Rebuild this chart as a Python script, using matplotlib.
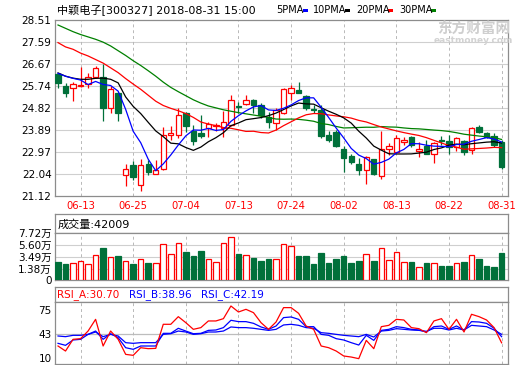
import matplotlib
matplotlib.use("Agg")
import matplotlib.pyplot as plt
from matplotlib.patches import Rectangle
import numpy as np

# ---------------- data ----------------
dates = ['06-13', '06-25', '07-04', '07-13', '07-24', '08-02', '08-13', '08-22', '08-31']
date_idx = [3, 10, 17, 24, 31, 38, 45, 52, 59]

opens = [26.24, 25.73, 25.64, 25.73, 25.82, 26.10, 26.10, 24.80, 25.43, 21.99,
         22.44, 21.57, 22.45, 22.06, 22.27, 23.70, 23.70, 24.59, 23.86, 23.75,
         23.96, 24.06, 23.96, 24.09, 24.89, 24.98, 25.15, 24.94, 24.44, 24.17,
         24.59, 25.43, 25.57, 25.31, 24.78, 24.73, 23.67, 23.81, 23.08, 22.79,
         22.48, 22.23, 22.69, 21.95, 23.11, 22.97, 23.39, 23.58, 23.01, 23.21,
         22.90, 23.46, 23.42, 23.18, 23.42, 23.04, 24.00, 23.75, 23.63, 23.37]
highs = [26.29, 25.85, 25.92, 26.55, 26.29, 26.58, 26.66, 25.73, 25.50, 22.48,
         22.59, 22.69, 22.65, 22.65, 24.02, 24.05, 24.80, 24.65, 24.12, 24.51,
         24.23, 24.18, 24.70, 25.36, 25.07, 25.36, 25.18, 25.01, 24.65, 24.80,
         25.64, 25.78, 25.92, 25.36, 24.94, 24.94, 23.84, 23.88, 23.21, 22.90,
         22.73, 22.79, 22.69, 23.84, 23.33, 23.67, 23.58, 23.63, 23.39, 23.49,
         23.39, 23.63, 23.67, 23.58, 23.46, 24.02, 24.09, 23.81, 23.75, 23.46]
lows = [25.64, 25.28, 25.12, 25.68, 25.64, 26.06, 24.27, 24.61, 24.27, 21.54,
        21.78, 21.33, 21.99, 22.03, 22.23, 23.46, 23.54, 23.81, 23.25, 23.54,
        23.60, 23.86, 23.60, 24.05, 24.59, 24.94, 24.59, 24.38, 23.96, 23.88,
        24.56, 25.15, 25.43, 24.73, 24.59, 23.54, 23.39, 23.18, 22.13, 22.48,
        21.99, 21.64, 21.99, 21.85, 22.83, 22.93, 23.25, 23.18, 22.76, 22.87,
        22.51, 23.25, 22.90, 23.01, 22.83, 22.90, 23.77, 23.54, 23.18, 22.24]
closes = [25.85, 25.43, 25.82, 25.80, 26.10, 26.50, 24.80, 25.60, 24.61, 22.27,
          21.90, 22.41, 22.13, 22.20, 23.70, 23.77, 24.51, 24.05, 23.43, 23.65,
          24.14, 24.10, 24.23, 25.15, 24.84, 25.15, 24.94, 24.51, 24.23, 24.73,
          25.61, 25.64, 25.43, 24.80, 24.73, 23.63, 23.49, 23.21, 22.73, 22.53,
          22.23, 22.76, 22.03, 23.11, 23.21, 23.54, 23.49, 23.25, 23.08, 22.90,
          23.35, 23.44, 23.18, 23.54, 22.97, 23.96, 23.81, 23.58, 23.25, 22.34]

# moving-average values at the left edge (before enough visible closes exist)
ma5_head = [26.27, 26.15, 26.06, 25.99]
ma10_head = [26.29, 26.15, 26.07, 26.02, 26.02, 26.06, 26.07, 26.02, 25.87]
ma20_head = [27.56, 27.38, 27.28, 27.12, 27.00, 26.85, 26.70, 26.50, 26.30, 26.05,
             25.82, 25.60, 25.35, 25.10, 24.92, 24.80, 24.70, 24.58, 24.42]
ma30_head = [28.30, 28.16, 28.02, 27.90, 27.80, 27.70, 27.58, 27.42, 27.22, 27.02,
             26.80, 26.60, 26.38, 26.15, 25.90, 25.68, 25.50, 25.33, 25.16, 25.02,
             24.90, 24.82, 24.74, 24.68, 24.62, 24.57, 24.52, 24.47, 24.42]

# volume in 万 shares
volume = [2.70, 2.35, 2.47, 2.82, 2.30, 3.81, 5.12, 3.51, 3.74, 2.82,
          2.35, 3.22, 2.53, 2.47, 5.76, 4.08, 5.93, 4.43, 3.74, 4.60,
          3.22, 2.65, 5.93, 6.97, 4.08, 3.86, 3.34, 2.87, 3.22, 3.22,
          5.76, 5.42, 3.69, 3.69, 2.30, 4.20, 2.47, 3.22, 3.69, 2.47,
          2.87, 4.03, 2.87, 5.07, 3.04, 4.38, 2.65, 2.65, 1.73, 2.47,
          2.47, 1.96, 1.96, 2.47, 2.65, 3.86, 3.22, 1.96, 1.78, 4.2009]

rsi_a = [26.4, 19.6, 35.4, 36.3, 46.6, 62.4, 26.4, 46.6, 35.4, 15.1,
         13.8, 24.1, 22.8, 23.2, 55.7, 55.7, 66.0, 57.9, 48.9, 51.2,
         60.2, 60.2, 63.3, 80.4, 72.3, 75.9, 71.4, 57.9, 48.9, 58.8,
         78.2, 78.2, 70.5, 53.4, 48.9, 26.4, 24.1, 19.6, 12.9, 11.5,
         9.3, 34.0, 22.8, 52.5, 54.3, 62.4, 61.5, 51.2, 49.8, 44.4,
         60.2, 63.3, 48.9, 62.4, 45.3, 69.2, 66.0, 61.5, 51.2, 30.70]
rsi_b = [30.0, 27.3, 34.5, 35.4, 42.1, 46.6, 35.4, 43.0, 37.6, 24.1,
         21.9, 26.4, 26.4, 26.4, 43.5, 43.5, 50.3, 46.6, 43.0, 43.5,
         47.5, 48.0, 51.2, 61.1, 59.3, 59.3, 57.0, 52.1, 48.9, 53.4,
         64.7, 65.6, 62.4, 52.5, 52.5, 42.1, 40.8, 36.3, 34.5, 30.9,
         27.7, 40.8, 34.0, 47.5, 48.9, 52.5, 51.2, 48.9, 48.0, 45.3,
         52.5, 53.4, 48.9, 53.4, 48.0, 59.3, 58.8, 57.0, 50.3, 38.96]
rsi_c = [39.9, 39.0, 40.8, 40.8, 42.1, 45.3, 39.0, 42.1, 39.9, 30.9,
         30.0, 30.9, 30.9, 30.9, 42.1, 43.0, 46.6, 45.3, 42.1, 43.0,
         45.3, 45.3, 46.6, 52.1, 51.2, 51.2, 50.3, 48.9, 47.5, 48.9,
         54.8, 55.7, 54.3, 51.2, 50.3, 44.4, 43.5, 42.1, 40.8, 39.9,
         39.0, 42.1, 38.5, 46.6, 47.5, 49.8, 48.9, 48.0, 47.5, 46.2,
         50.3, 50.3, 48.0, 50.3, 48.0, 54.3, 53.4, 52.5, 48.0, 42.19]

price_ticks = [21.12, 22.04, 22.97, 23.89, 24.82, 25.74, 26.67, 27.59, 28.51]
vol_ticks = [1.38, 3.49, 5.60, 7.72]
rsi_ticks = [10, 43, 75]

title_text = '中颖电子[300327] 2018-08-31 15:00'
vol_title = '成交量:42009'

# ---------------- derived ----------------
def moving_avg(head, n):
    out = list(head)
    for i in range(len(head), len(closes)):
        out.append(float(np.mean(closes[i - n + 1:i + 1])))
    return out

ma5 = moving_avg(ma5_head, 5)
ma10 = moving_avg(ma10_head, 10)
ma20 = moving_avg(ma20_head, 20)
ma30 = moving_avg(ma30_head, 30)

# ---------------- style ----------------
W, H = 520, 365
RED = '#ff0000'
GREEN = '#00703a'
BORDER = '#8c8c8c'
GRID = '#cfcfcf'
VGRID = '#b8b8b8'
FONT = ['DejaVu Sans', 'Noto Sans CJK SC']
plt.rcParams['font.family'] = FONT

fig = plt.figure(figsize=(W / 100, H / 100), dpi=100)
fig.patch.set_facecolor('white')


def px_axes(x0, y0, x1, y1):
    return fig.add_axes([x0 / W, 1 - y1 / H, (x1 - x0) / W, (y1 - y0) / H])


def fx(x):
    return x / W


def fy(y):
    return 1 - y / H


n = len(closes)
xs = np.arange(n)
XL = (-0.4, 59.85)


def style_axes(ax):
    for s in ax.spines.values():
        s.set_color(BORDER)
        s.set_linewidth(0.9)
    ax.set_xlim(*XL)
    ax.tick_params(length=0, labelsize=7.5, pad=2.5)
    for d in date_idx:
        ax.axvline(d, color=VGRID, lw=0.7, ls=(0, (3, 3)), zorder=0.5)


up = [c >= o for o, c in zip(opens, closes)]

# ---------------- main price panel ----------------
ax = px_axes(55, 20, 508, 196)
style_axes(ax)
ax.set_ylim(21.12, 28.51)
ax.set_yticks(price_ticks)
ax.set_yticklabels(['%.2f' % t for t in price_ticks])
for t in price_ticks[1:-1]:
    ax.axhline(t, color=GRID, lw=0.8, zorder=0.4)
ax.set_xticks(date_idx)
ax.set_xticklabels(dates, color=RED, fontsize=7.2)
ax.tick_params(axis='x', pad=3.5)

bw = 0.72
for i in range(n):
    o, h, l, c = opens[i], highs[i], lows[i], closes[i]
    col = RED if up[i] else GREEN
    ax.vlines(i, l, h, color=col, lw=0.9, zorder=2)
    lo, hi = min(o, c), max(o, c)
    if hi - lo < 0.03:
        hi = lo + 0.03
    if up[i]:
        ax.add_patch(Rectangle((i - bw / 2, lo), bw, hi - lo, facecolor='white',
                               edgecolor=col, lw=0.9, zorder=3))
    else:
        ax.add_patch(Rectangle((i - bw / 2, lo), bw, hi - lo, facecolor=col,
                               edgecolor=col, lw=0.9, zorder=3))

ax.plot(xs, ma30, color='#008000', lw=0.9, zorder=4)
ax.plot(xs, ma20, color=RED, lw=0.9, zorder=4)
ax.plot(xs, ma10, color='black', lw=0.9, zorder=4)
ax.plot(xs, ma5, color='#0000ff', lw=0.9, zorder=4)

# watermark
fig.text(fx(437), fy(29), '东方财富网', fontsize=10.5, color='#cfcfcf',
         family=['Noto Sans CJK SC'], va='center', ha='left', fontweight='bold')
fig.text(fx(434), fy(40.5), 'eastmoney.com', fontsize=6.5, color='#d2d2d2',
         va='center', ha='left', fontweight='bold')

# title + legend
fig.text(fx(57), fy(10), title_text, fontsize=8, va='center', ha='left', color='black')
legend_items = [('5PMA', 276, 302.5, '#0000ff'), ('10PMA', 313, 345, 'black'),
                ('20PMA', 356, 388, RED), ('30PMA', 399, 431, '#008000')]
for label, tx, rx, col in legend_items:
    fig.text(fx(tx), fy(10), label, fontsize=7, va='center', ha='left', color='black')
    fig.patches.append(Rectangle((fx(rx), fy(12)), 5 / W, 3 / H, facecolor=col,
                                 edgecolor='none', transform=fig.transFigure))

# ---------------- volume panel ----------------
axh = px_axes(55, 214.3, 508, 232.5)
for s in axh.spines.values():
    s.set_color(BORDER)
    s.set_linewidth(0.9)
axh.set_xticks([])
axh.set_yticks([])
axh.text(0.005, 0.45, vol_title, transform=axh.transAxes, fontsize=8,
         va='center', ha='left', color='black')

axv = px_axes(55, 232.5, 508, 280)
style_axes(axv)
vmin = -0.47
axv.set_ylim(vmin, 7.72)
axv.set_xticks([])
for t in vol_ticks[:-1]:
    axv.axhline(t, color=GRID, lw=0.8, zorder=0.4)
axv.set_yticks([vmin] + vol_ticks)
axv.set_yticklabels(['0'] + ['%.2f万' % t for t in vol_ticks])
for i in range(n):
    col = RED if up[i] else GREEN
    fc = 'white' if up[i] else col
    axv.add_patch(Rectangle((i - 0.37, vmin), 0.74, volume[i] - vmin,
                            facecolor=fc, edgecolor=col, lw=0.9, zorder=3))

# ---------------- RSI panel ----------------
axr_h = px_axes(55, 287.3, 508, 301.7)
for s in axr_h.spines.values():
    s.set_color(BORDER)
    s.set_linewidth(0.9)
axr_h.set_xticks([])
axr_h.set_yticks([])
fig.text(fx(57), fy(294.5), 'RSI_A:%.2f' % rsi_a[-1], fontsize=7.5, color=RED,
         va='center', ha='left')
fig.text(fx(129), fy(294.5), 'RSI_B:%.2f' % rsi_b[-1], fontsize=7.5, color='#0000ff',
         va='center', ha='left')
fig.text(fx(201), fy(294.5), 'RSI_C:%.2f' % rsi_c[-1], fontsize=7.5, color='#0000ff',
         va='center', ha='left')

axr = px_axes(55, 301.7, 508, 364)
style_axes(axr)
axr.set_ylim(2.1, 86.2)
axr.set_xticks([])
axr.axhline(43, color='#bdbdbd', lw=0.9, zorder=0.4)
axr.set_yticks(rsi_ticks)
axr.set_yticklabels([str(t) for t in rsi_ticks])
axr.plot(xs, rsi_c, color='#0000ff', lw=0.9, zorder=3)
axr.plot(xs, rsi_b, color='#0000ff', lw=0.9, zorder=3)
axr.plot(xs, rsi_a, color=RED, lw=0.9, zorder=4)

fig.savefig('out.png', dpi=100, facecolor='white')
